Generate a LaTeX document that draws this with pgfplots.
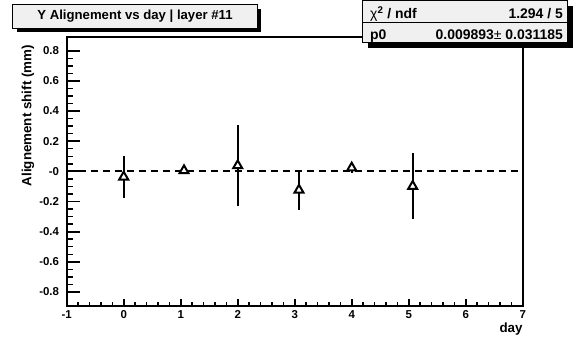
\documentclass[border=0pt]{standalone}
\usepackage{pgfplots}
\pgfplotsset{compat=1.18}
\usepackage{fontspec}
\setmainfont{Liberation Sans}
\definecolor{boxgray}{HTML}{F0F0F0}
\begin{document}
\begin{tikzpicture}[x=1bp,y=1bp]
\useasboundingbox (-66.7,-31) rectangle (507.3,306);
\pgfplotsset{common/.style={scale only axis, width=456bp, height=269.3bp,
  at={(0,0)}, anchor=south west,
  xmin=-1, xmax=7, ymin=-0.893, ymax=0.893,
  axis line style={line width=1.8bp},
  tick align=inside, xtick pos=left, ytick pos=left,
  major tick style={line width=1.7bp, black},
  minor tick style={line width=1.5bp, black},
  tick label style={font=\fontsize{11.5}{13}\selectfont\bfseries},
  /pgf/number format/assume math mode=true}}
\begin{axis}[common, xtick=\empty,
  ytick={-0.8,-0.6,-0.4,-0.2,0,0.2,0.4,0.6,0.8},
  yticklabels={-0.8,-0.6,-0.4,-0.2,-0,0.2,0.4,0.6,0.8},
  minor y tick num=3,
  major tick length=13bp, minor tick length=6.5bp,
  yticklabel style={anchor=east, inner sep=0pt, xshift=-7.5bp}]
\addplot[black, line width=2bp, dash pattern=on 7bp off 5bp] coordinates {(-1,0) (7,0)};
\addplot[black, only marks, mark=triangle*, mark size=5.2bp,
  mark options={fill=white, draw=black, line width=2bp, solid},
  error bars/.cd, y dir=both, y explicit, error mark=none,
  error bar style={line width=2bp, black}]
  table[x=x, y=y, y error=e] {
x y e
0 -0.037 0.137
1.058 0.005 0.012
2.0 0.038 0.267
3.075 -0.124 0.133
4.0 0.023 0.035
5.07 -0.099 0.219
};
\end{axis}
\begin{axis}[common, ytick=\empty, xtick={-1,0,...,7},
  minor x tick num=4,
  major tick length=7.5bp, minor tick length=4bp,
  xticklabel style={anchor=north, inner sep=0pt, yshift=-4.5bp}]
\end{axis}
\node[rotate=90, anchor=east, inner sep=0pt, font=\fontsize{13.4}{15}\selectfont\bfseries] at (-38.7,261) {Alignement shift (mm)};
\node[anchor=north east, inner sep=0pt, font=\fontsize{13.4}{15}\selectfont\bfseries] at (456,-17) {day};
% title box
\fill[black] (-49.7,274) rectangle (194.3,297);
\filldraw[fill=boxgray, draw=black, line width=1bp] (-53.7,278) rectangle (190.3,301);
\node[font=\fontsize{13.2}{15}\selectfont\bfseries] at (68.3,289.5) {Y Alignement vs day | layer \#11};
% stats box
\fill[black] (301,258) rectangle (506,300);
\filldraw[fill=boxgray, draw=black, line width=1bp] (296,263.3) rectangle (500.3,305.5);
\draw[line width=1bp] (296,283.5) -- (500.3,283.5);
\node[anchor=base west, inner sep=0pt, font=\fontsize{14}{16}\selectfont\bfseries] at (303.3,287.5) {{\mdseries χ}\textsuperscript{2} / ndf};
\node[anchor=base east, inner sep=0pt, font=\fontsize{14}{16}\selectfont\bfseries] at (496.3,287.5) {1.294 / 5};
\node[anchor=base west, inner sep=0pt, font=\fontsize{14}{16}\selectfont\bfseries] at (303.3,267) {p0};
\node[anchor=base east, inner sep=0pt, font=\fontsize{14}{16}\selectfont\bfseries] at (496.3,267) {0.009893{\mdseries±} 0.031185};
\end{tikzpicture}
\end{document}
